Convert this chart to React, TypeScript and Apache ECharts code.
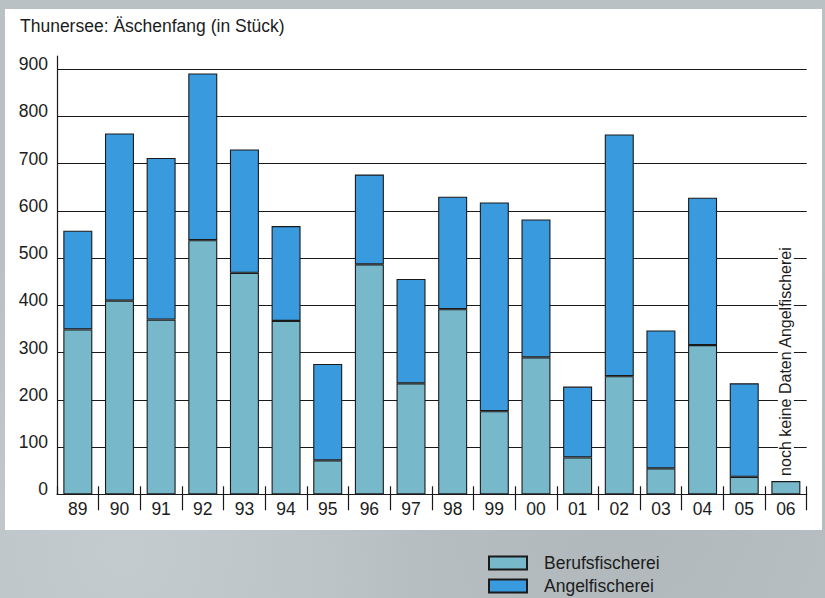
import React, { useEffect, useRef } from "react";
import * as echarts from "echarts";

// ---- data ----
const years = ["89", "90", "91", "92", "93", "94", "95", "96", "97", "98", "99", "00", "01", "02", "03", "04", "05", "06"];
const berufsfischerei = [349, 410, 370, 538, 469, 367, 72, 487, 235, 392, 176, 290, 78, 250, 55, 316, 37, 28];
const angelfischerei = [209, 354, 342, 353, 261, 201, 204, 190, 221, 238, 442, 292, 150, 512, 292, 312, 198, null];
const seriesNames = ["Berufsfischerei", "Angelfischerei"];
const yMin = 0;
const yMax = 928;
const yInterval = 100;
const titleText = "Thunersee: Äschenfang (in Stück)";
const noteText = "noch keine Daten Angelfischerei";
const noteCategoryIndex = 17;
const noteCenterValue = 281;

const FONT = "'Liberation Sans', Arial, Helvetica, sans-serif";
const INK = "#1c1c1c";
const LINE = "#1a1a1a";

export default function App() {
  const ref = useRef<HTMLDivElement>(null);

  useEffect(() => {
    document.body.style.margin = "0";
    if (!ref.current) return;
    const chart = echarts.init(ref.current, undefined, { renderer: "svg" });
    const lineStyle = { color: LINE, width: 1.2 };
    chart.setOption({
      animation: false,
      backgroundColor: "transparent",
      textStyle: { fontFamily: FONT },
      title: {
        text: titleText,
        left: 20,
        top: 17,
        padding: 0,
        textStyle: { fontSize: 17.5, fontWeight: "normal", color: INK, fontFamily: FONT },
      },
      grid: { left: 57, right: 18.3, top: 56, bottom: 103.7 },
      legend: {
        orient: "vertical",
        left: 488,
        top: 554,
        height: 44,
        padding: 0,
        icon: "rect",
        itemWidth: 38,
        itemHeight: 13,
        itemGap: 5,
        data: seriesNames,
        textStyle: { fontSize: 17.5, color: INK, fontFamily: FONT, lineHeight: 18, padding: [0, 0, 0, 12] },
      },
      xAxis: [
        {
          type: "category",
          data: years,
          boundaryGap: true,
          axisLine: { show: true, lineStyle },
          axisTick: { show: true, length: 16, interval: (i: number) => i !== 0, lineStyle },
          axisLabel: { fontSize: 17.5, color: INK, fontFamily: FONT, margin: 6 },
          splitLine: { show: false },
          z: 5,
        },
        {
          type: "category",
          data: years,
          position: "bottom",
          boundaryGap: true,
          axisLine: { show: false },
          axisTick: { show: true, inside: true, length: 8, lineStyle },
          axisLabel: { show: false },
          splitLine: { show: false },
          z: 5,
        },
      ],
      yAxis: {
        type: "value",
        min: yMin,
        max: yMax,
        interval: yInterval,
        axisLine: { show: true, lineStyle },
        axisTick: { show: false },
        splitLine: { show: true, showMaxLine: false, lineStyle },
        axisLabel: {
          fontSize: 17.5,
          color: INK,
          fontFamily: FONT,
          margin: 9,
          showMaxLabel: false,
          verticalAlign: "bottom",
          lineHeight: 10,
        },
      },
      series: [
        {
          name: seriesNames[0],
          type: "bar",
          stack: "total",
          barWidth: 29,
          data: berufsfischerei,
          itemStyle: { color: "#78b8cb", borderColor: LINE, borderWidth: 1.1 },
        },
        {
          name: seriesNames[1],
          type: "bar",
          stack: "total",
          barWidth: 29,
          data: angelfischerei,
          itemStyle: { color: "#3a9ade", borderColor: LINE, borderWidth: 1.1 },
        },
      ],
    });

    const pos = chart.convertToPixel({ gridIndex: 0 }, [noteCategoryIndex, noteCenterValue]) as number[];
    chart.setOption({
      graphic: [
        {
          type: "text",
          x: pos[0],
          y: pos[1],
          rotation: Math.PI / 2,
          z: 10,
          style: {
            text: noteText,
            fill: INK,
            font: `16px ${FONT}`,
            align: "center",
            verticalAlign: "middle",
            backgroundColor: "#ffffff",
          },
        },
      ],
    });

    return () => chart.dispose();
  }, []);

  return (
    <div
      style={{
        position: "relative",
        width: 825,
        height: 598,
        overflow: "hidden",
        background:
          "radial-gradient(circle at 15% 92%, #c4cbce 0%, rgba(196,203,206,0) 35%), radial-gradient(circle at 75% 85%, #b0b8bb 0%, rgba(176,184,187,0) 45%), #b9c1c4",
      }}
    >
      <div style={{ position: "absolute", left: 5, top: 9, width: 817, height: 521, background: "#ffffff" }} />
      <div ref={ref} style={{ position: "absolute", left: 0, top: 0, width: 825, height: 598 }} />
    </div>
  );
}
